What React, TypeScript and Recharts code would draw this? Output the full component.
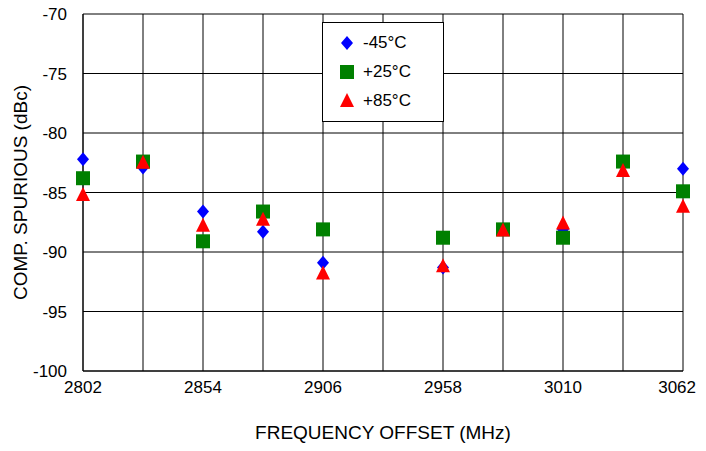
import React from 'react';
import { ScatterChart, Scatter, XAxis, YAxis, CartesianGrid } from 'recharts';

const freqs = [2802, 2828, 2854, 2880, 2906, 2958, 2984, 3010, 3036, 3062];
const m45 = [-82.2, -82.9, -86.6, -88.3, -90.9, -91.3, -88.1, -88.1, -82.4, -83.0];
const p25 = [-83.8, -82.4, -89.1, -86.6, -88.1, -88.8, -88.1, -88.8, -82.4, -84.9];
const p85 = [-85.2, -82.5, -87.8, -87.3, -91.8, -91.2, -88.2, -87.6, -83.2, -86.2];
const xTicks = [2802, 2828, 2854, 2880, 2906, 2932, 2958, 2984, 3010, 3036, 3062];
const yTicks = [-100, -95, -90, -85, -80, -75, -70];

const mk = (v: number[]) => freqs.map((f, i) => ({ x: f, y: v[i] }));

const Diamond = (p: any) => (
  <polygon points={`${p.cx},${p.cy - 7} ${p.cx + 6},${p.cy} ${p.cx},${p.cy + 7} ${p.cx - 6},${p.cy}`} fill="#0000ff" />
);
const Square = (p: any) => <rect x={p.cx - 7} y={p.cy - 7} width={14} height={14} fill="#008000" />;
const Tri = (p: any) => (
  <polygon points={`${p.cx},${p.cy - 8} ${p.cx + 7},${p.cy + 6} ${p.cx - 7},${p.cy + 6}`} fill="#ff0000" />
);

const XTick = (p: any) => {
  const v = p.payload.value;
  if ((v - 2802) % 52 !== 0) return null;
  return (
    <text x={p.x} y={p.y + 14} textAnchor={v === 3062 ? 'end' : 'middle'} dx={v === 3062 ? 13 : 0} fill="#000" fontSize={17}>
      {v}
    </text>
  );
};

const YLabel = (p: any) => {
  const vb = p.viewBox || {};
  const cy = vb.y + vb.height / 2;
  return (
    <text x={20} y={cy} transform={`rotate(-90, 20, ${cy})`} textAnchor="middle" dominantBaseline="central" fill="#000" fontSize={19}>
      COMP. SPURIOUS (dBc)
    </text>
  );
};

const LegendBox = () => (
  <div style={{ position: 'absolute', left: 322, top: 22, width: 122, height: 100, background: '#fff', border: '1px solid #000', fontFamily: 'Liberation Sans, Arial', fontSize: 17, boxSizing: 'border-box' }}>
    {[['-45°C', Diamond], ['+25°C', Square], ['+85°C', Tri]].map(([t, S]: any, i) => (
      <div key={i} style={{ position: 'absolute', top: 10 + i * 29, left: 14, display: 'flex', alignItems: 'center' }}>
        <svg width={20} height={20}><S cx={10} cy={10} /></svg>
        <span style={{ marginLeft: 6 }}>{t}</span>
      </div>
    ))}
  </div>
);

export default function App() {
  return (
    <div style={{ position: 'relative', width: 706, height: 451, margin: -8, fontFamily: 'Liberation Sans, Arial' }}>
      <ScatterChart width={706} height={451} margin={{ top: 14, right: 23, bottom: 0, left: 8 }}>
        <CartesianGrid stroke="#000" strokeWidth={1} />
        <XAxis type="number" dataKey="x" domain={[2802, 3062]} ticks={xTicks} interval={0}
          tick={<XTick />} tickLine={false} axisLine={{ stroke: '#000' }} height={80}
          label={{ value: 'FREQUENCY OFFSET (MHz)', position: 'insideBottom', offset: 12, fill: '#000', fontSize: 19 }} />
        <YAxis type="number" dataKey="y" domain={[-100, -70]} ticks={yTicks} interval={0}
          tick={{ fill: '#000', fontSize: 17 }} tickLine={false} tickMargin={10} axisLine={{ stroke: '#000' }} width={75}
          label={<YLabel />} />
        <Scatter data={mk(m45)} shape={Diamond} isAnimationActive={false} />
        <Scatter data={mk(p25)} shape={Square} isAnimationActive={false} />
        <Scatter data={mk(p85)} shape={Tri} isAnimationActive={false} />
      </ScatterChart>
      <LegendBox />
    </div>
  );
}
